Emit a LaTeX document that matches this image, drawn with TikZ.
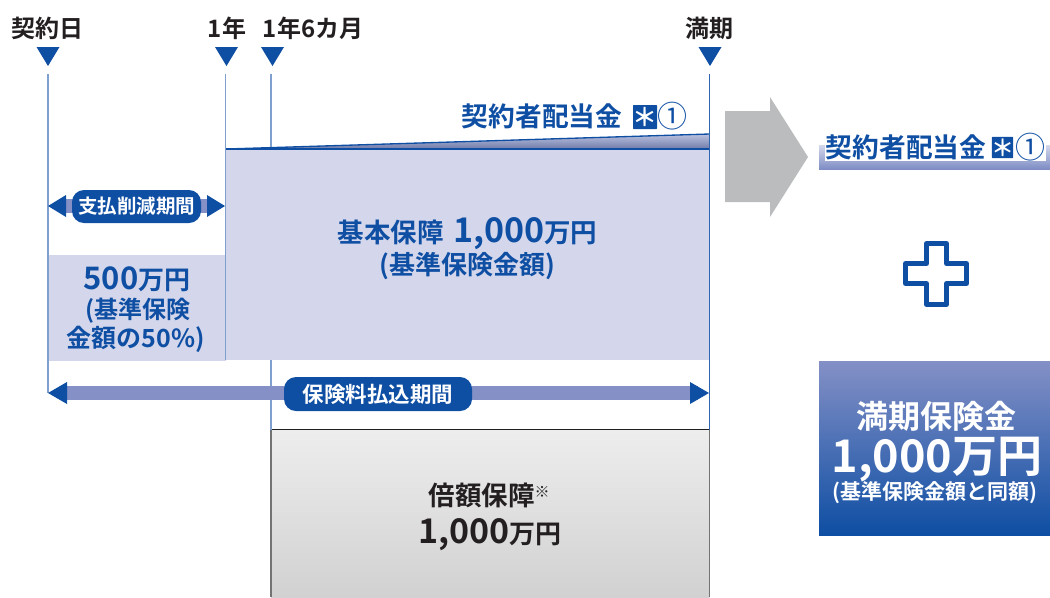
\documentclass[tikz,border=0pt]{standalone}
\usepackage{fontspec}
\setmainfont{Noto Sans CJK JP}[BoldFont={Noto Sans CJK JP Bold}]
\definecolor{dblue}{HTML}{0E4EA3}
\definecolor{mblue}{HTML}{8490C6}
\definecolor{pale}{HTML}{D4D7EB}
\definecolor{lline}{HTML}{7F9FCF}
\definecolor{ink}{HTML}{231F20}
\definecolor{gra}{HTML}{BBBCBE}
\newcommand{\px}[1]{\fontsize{\dimexpr#1pt*3/4\relax}{\dimexpr#1pt*9/10\relax}\selectfont}
\tikzset{
  x=0.75pt,y=-0.75pt,
  lab/.style={inner sep=0pt,align=center},
  tick/.style={fill=dblue,draw=none},
  vline/.style={draw=lline,line width=1pt},
  pill/.style={fill=dblue,rounded corners=9pt,draw=none,inner sep=0pt,text=white},
  barfill/.style={fill=mblue,draw=none},
  headfill/.style={fill=dblue,draw=none},
  starbox/.style={fill=dblue,text=white,inner sep=0pt,rounded corners=0.5pt},
}
\begin{document}
\begin{tikzpicture}
\useasboundingbox (0,0) rectangle (1050,597);
% boxes
\fill[pale] (48,255) rectangle (226,360.5);
\fill[pale] (226,149) rectangle (709.5,360);
\shade[top color=mblue!55,bottom color=mblue!85!black] (226,149) -- (709.5,134) -- (709.5,149) -- cycle;
\draw[dblue,line width=1pt] (226,149) -- (709.5,134);
\draw[dblue,line width=1pt] (226,149) -- (709.5,149);
\shade[top color=black!7,bottom color=black!18] (271,429.5) rectangle (709.5,597);
\draw[ink,line width=0.8pt] (271,429.5) -- (709.5,429.5);
\draw[black!55,line width=0.8pt] (271,429.5) -- (271,597);
\draw[black!55,line width=0.8pt] (709.5,429.5) -- (709.5,597);
% vertical lines
\draw[vline] (48,74) -- (48,393);
\draw[vline] (225.5,74) -- (225.5,360);
\draw[vline] (271,74) -- (271,147);
\draw[vline] (271,360) -- (271,430);
\draw[draw=dblue!70!lline,line width=1pt] (709.5,74) -- (709.5,430);
% header triangles
\foreach \cx in {48,226.5,272.5,710}{
  \fill[tick] (\cx-11.5,47) -- (\cx+11.5,47) -- (\cx,66) -- cycle;
}
% header labels
\node[lab,text=ink,font=\bfseries\px{24}] (la) at (47.5,28) {契約日};
\node[lab,text=ink,font=\bfseries\px{24}] (lb) at (227,28) {1年};
\node[lab,text=ink,font=\bfseries\px{24}] (lc) at (313,28) {1年6カ月};
\node[lab,text=ink,font=\bfseries\px{24}] (ld) at (709,28) {満期};
% short arrow
\fill[barfill] (60,199) rectangle (212,213);
\fill[headfill] (48,206) -- (66,195) -- (66,217) -- cycle;
\fill[headfill] (225,206) -- (207,195) -- (207,217) -- cycle;
\node[pill,minimum width=96.75pt,minimum height=24.75pt,font=\bfseries\px{19.5}] (pa) at (136.5,206.5) {支払削減期間};
% long arrow
\fill[barfill] (60,386) rectangle (698,400);
\fill[headfill] (48,393) -- (67,382) -- (67,404) -- cycle;
\fill[headfill] (709,393) -- (690,382) -- (690,404) -- cycle;
\node[pill,minimum width=141pt,minimum height=25.5pt,font=\bfseries\px{21.5}] (pb) at (378,394) {保険料払込期間};
% dividend top
\node[lab,text=dblue,font=\bfseries\px{26.7}] (da) at (542,116) {契約者配当金};
\node[starbox,font=\bfseries\px{25}] (sa) at (645,117) {\parbox[c][18pt][c]{18pt}{\centering\makebox[0pt]{＊}}};
\node[lab,text=dblue,font=\px{30}] (ca) at (672.5,116) {①};
% main texts
\node[lab,text=dblue,font=\bfseries\px{26.5}] (ma) at (467.5,234) {基本保障\hspace{7pt}{\px{34}1,000}万円};
\node[lab,text=dblue,font=\bfseries\px{26}] (mb) at (467,266) {(基準保険金額)};
\node[lab,text=dblue,font=\bfseries\px{26}] (ha) at (137,279) {{\px{31}500}万円};
\node[lab,text=dblue,font=\bfseries\px{24}] (hb) at (138,311) {(基準保険};
\node[lab,text=dblue,font=\bfseries\px{25}] (hc) at (136,339) {金額の50\%)};
% double text
\node[lab,text=ink,font=\bfseries\px{26.5}] (ga) at (489,495) {倍額保障\raisebox{6pt}{\px{15}※}};
\node[lab,text=ink,font=\bfseries\px{26}] (gb) at (490,535) {{\px{34}1,000}万円};
% grey arrow
\fill[gra] (725,111) -- (770,111) -- (770,97) -- (808,157) -- (770,217) -- (770,202) -- (725,202) -- cycle;
% right band
\shade[top color=mblue!35,bottom color=mblue!95!dblue] (819,145) rectangle (1050,169);
\fill[white] (825,138) rectangle (1046,161);
\node[lab,text=dblue,font=\bfseries\px{26.7}] (db) at (906,147) {契約者配当金};
\node[starbox,font=\bfseries\px{23}] (sb) at (1002.5,147.5) {\parbox[c][16pt][c]{16pt}{\centering\makebox[0pt]{＊}}};
\node[lab,text=dblue,font=\px{30}] (cb) at (1030.5,147) {①};
% plus
\draw[dblue,line width=3.75pt,line join=round] (926.5,243.5) -- (946.5,243.5) -- (946.5,263.5) -- (966.5,263.5) -- (966.5,283.5) -- (946.5,283.5) -- (946.5,304.5) -- (926.5,304.5) -- (926.5,283.5) -- (905.5,283.5) -- (905.5,263.5) -- (926.5,263.5) -- cycle;
% maturity box
\shade[top color=mblue,bottom color=dblue] (819,361) rectangle (1050,535);
\node[lab,text=white,font=\bfseries\px{32}] (ka) at (936,416) {満期保険金};
\node[lab,text=white,font=\bfseries\px{45}] (kb) at (937,460) {1,000万円};
\node[lab,text=white,font=\bfseries\px{21}] (kc) at (935,493) {(基準保険金額と同額)};
\end{tikzpicture}
\end{document}
